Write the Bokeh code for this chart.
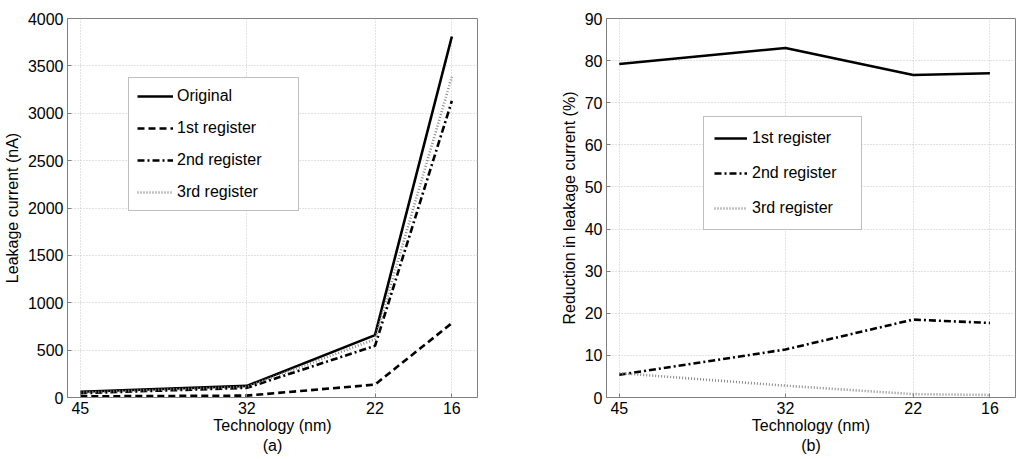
from bokeh.plotting import figure
from bokeh.layouts import row
from bokeh.models import Range1d, FixedTicker, Legend, LegendItem
from bokeh.embed import file_html
from bokeh.resources import INLINE

# ---- data ----
tech = [45, 32, 22, 16]
tech_ticks = [45, 32, 22, 16]

leak_original = [60, 123, 658, 3810]
leak_reg1 = [12, 20, 136, 785]
leak_reg2 = [45, 102, 545, 3130]
leak_reg3 = [52, 112, 615, 3385]

red_reg1 = [79.2, 83.0, 76.6, 77.0]
red_reg2 = [5.4, 11.4, 18.5, 17.7]
red_reg3 = [5.8, 2.8, 0.8, 0.6]

leak_yticks = list(range(0, 4001, 500))
red_yticks = list(range(0, 91, 10))

FONT = "Liberation Sans"
FRAME_C = "#808080"
GRID_C = "#c4c4c4"


def style(p, xlabel, ylabel, yticks):
    p.background_fill_color = "white"
    p.border_fill_color = "white"
    p.outline_line_color = FRAME_C
    p.outline_line_width = 1
    p.xaxis.ticker = FixedTicker(ticks=tech_ticks)
    p.yaxis.ticker = FixedTicker(ticks=yticks)
    for ax in (p.xaxis[0], p.yaxis[0]):
        ax.axis_line_color = FRAME_C
        ax.major_tick_line_color = FRAME_C
        ax.major_tick_in = 4
        ax.major_tick_out = 0
        ax.minor_tick_line_color = None
        ax.major_label_text_font = FONT
        ax.major_label_text_font_size = "16px"
        ax.major_label_text_color = "black"
        ax.axis_label_text_font = FONT
        ax.axis_label_text_font_size = "16px"
        ax.axis_label_text_font_style = "normal"
        ax.axis_label_text_color = "black"
    p.xaxis.axis_label = xlabel
    p.yaxis.axis_label = ylabel
    p.xaxis.major_label_standoff = 4
    p.yaxis.major_label_standoff = 4
    p.xaxis.axis_label_standoff = 0
    p.yaxis.axis_label_standoff = 4
    for g in (p.xgrid[0], p.ygrid[0]):
        g.grid_line_color = GRID_C
        g.grid_line_dash = "1 2"
        g.grid_line_width = 1
    p.xgrid.ticker = FixedTicker(ticks=tech_ticks)
    p.ygrid.ticker = FixedTicker(ticks=yticks)


# ---- left panel ----
p1 = figure(width=532, frame_width=410, frame_height=379,
            x_range=Range1d(46, 14), y_range=Range1d(0, 4000),
            output_backend="svg", toolbar_location=None,
            min_border_left=59, min_border_right=63,
            min_border_top=18, min_border_bottom=54)
style(p1, "Technology (nm)\n(a)", "Leakage current (nA)", leak_yticks)

r_o = p1.line(tech, leak_original, line_color="black", line_width=2.6)
r_1 = p1.line(tech, leak_reg1, line_color="black", line_width=2.6, line_dash="7 4")
r_2 = p1.line(tech, leak_reg2, line_color="black", line_width=2.6, line_dash="7 3 2 3")
r_3 = p1.line(tech, leak_reg3, line_color="#888888", line_width=2.6, line_dash="1 2")

leg1 = Legend(items=[LegendItem(label="Original", renderers=[r_o]),
                     LegendItem(label="1st register", renderers=[r_1]),
                     LegendItem(label="2nd register", renderers=[r_2]),
                     LegendItem(label="3rd register", renderers=[r_3])],
              location=(61, 186))
leg1.label_text_font = FONT
leg1.label_text_font_size = "16px"
leg1.label_text_color = "black"
leg1.label_height = 20
leg1.glyph_height = 20
leg1.glyph_width = 36
leg1.label_standoff = 4
leg1.label_width = 113
leg1.spacing = 12
leg1.padding = 8
leg1.margin = 0
leg1.border_line_color = FRAME_C
leg1.border_line_width = 1
leg1.background_fill_color = "white"
leg1.background_fill_alpha = 1
p1.add_layout(leg1)

# ---- right panel ----
p2 = figure(width=476, frame_width=409, frame_height=379,
            x_range=Range1d(46, 14), y_range=Range1d(0, 90),
            output_backend="svg", toolbar_location=None,
            min_border_left=66, min_border_right=1,
            min_border_top=18, min_border_bottom=54)
style(p2, "Technology (nm)\n(b)", "Reduction in leakage current (%)", red_yticks)

q_1 = p2.line(tech, red_reg1, line_color="black", line_width=2.6)
q_2 = p2.line(tech, red_reg2, line_color="black", line_width=2.6, line_dash="7 3 2 3")
q_3 = p2.line(tech, red_reg3, line_color="#888888", line_width=2.6, line_dash="1 2")

leg2 = Legend(items=[LegendItem(label="1st register", renderers=[q_1]),
                     LegendItem(label="2nd register", renderers=[q_2]),
                     LegendItem(label="3rd register", renderers=[q_3])],
              location=(97, 167))
leg2.label_text_font = FONT
leg2.label_text_font_size = "16px"
leg2.label_text_color = "black"
leg2.label_height = 22
leg2.glyph_height = 22
leg2.glyph_width = 33
leg2.label_standoff = 5
leg2.label_width = 99
leg2.spacing = 13
leg2.padding = 10
leg2.margin = 0
leg2.border_line_color = FRAME_C
leg2.border_line_width = 1
leg2.background_fill_color = "white"
leg2.background_fill_alpha = 1
p2.add_layout(leg2)

layout = row(p1, p2, spacing=0)
open("out.html", "w").write(file_html(layout, INLINE))
